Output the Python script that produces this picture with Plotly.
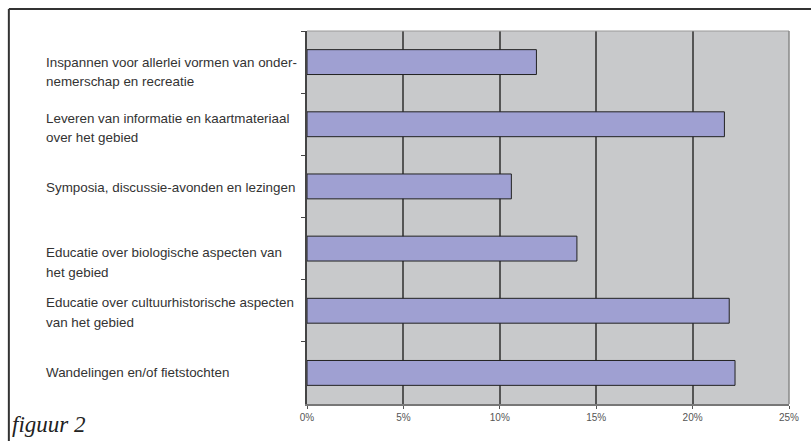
import plotly.graph_objects as go

categories = [
    "Inspannen voor allerlei vormen van onder-\nnemerschap en recreatie",
    "Leveren van informatie en kaartmateriaal\nover het gebied",
    "Symposia, discussie-avonden en lezingen",
    "Educatie over biologische aspecten van\nhet gebied",
    "Educatie over cultuurhistorische aspecten\nvan het gebied",
    "Wandelingen en/of fietstochten",
]
values = [0.119, 0.2165, 0.106, 0.140, 0.219, 0.222]
x_ticks = [0, 0.05, 0.10, 0.15, 0.20, 0.25]
x_tick_labels = ["0%", "5%", "10%", "15%", "20%", "25%"]
figure_label = "figuur 2"

# styling: vertical offset (px, positive = down) of first label line vs. bar centre
label_offsets = [0, -6, 1, 4, -8, 0]
line_step = 19.5

W, H = 811, 441
L, R, T, B = 307, 19, 31, 37
pw, ph = W - L - R, H - T - B

fig = go.Figure()
fig.add_trace(go.Bar(
    y=categories, x=values, orientation="h",
    marker=dict(color="#9FA0D2", line=dict(color="#222222", width=1)),
    hoverinfo="skip",
))

annotations = []
for cat, off in zip(categories, label_offsets):
    for i, line in enumerate(cat.split("\n")):
        annotations.append(dict(
            xref="paper", yref="y", x=(42 - L) / pw, y=cat,
            xanchor="left", yanchor="middle", showarrow=False,
            text=line, yshift=-(off + i * line_step),
            font=dict(family="Liberation Sans, Arial", size=13.4, color="#333333"),
        ))
annotations.append(dict(
    xref="paper", yref="paper", x=(8 - L) / pw, y=-(424 - (T + ph)) / ph,
    xanchor="left", yanchor="middle", showarrow=False, text="<i>" + figure_label + "</i>",
    font=dict(family="Liberation Serif, Times New Roman", size=23, color="#222222"),
))

shapes = [
    dict(type="line", xref="paper", yref="paper",
         x0=(7 - L) / pw, x1=(W + 5 - L) / pw, y0=1 + (T - 9) / ph, y1=1 + (T - 9) / ph,
         line=dict(color="#333333", width=2)),
    dict(type="line", xref="paper", yref="paper",
         x0=(7 - L) / pw, x1=(7 - L) / pw, y0=1 + (T - 9) / ph, y1=-(H + 5 - T - ph) / ph,
         line=dict(color="#333333", width=2)),
    dict(type="line", xref="paper", yref="paper", x0=0, x1=1, y0=1, y1=1,
         line=dict(color="#999999", width=1)),
    dict(type="line", xref="paper", yref="paper", x0=1, x1=1, y0=0, y1=1,
         line=dict(color="#888888", width=1.5)),
]

fig.update_layout(
    width=W, height=H,
    margin=dict(l=L, r=R, t=T, b=B),
    paper_bgcolor="white", plot_bgcolor="#C8C9CB",
    showlegend=False, bargap=0.6,
    annotations=annotations, shapes=shapes,
    xaxis=dict(
        range=[0, 0.25], tickvals=x_ticks, ticktext=x_tick_labels,
        showgrid=True, gridcolor="#555555", gridwidth=1.5,
        showline=True, linecolor="#777777", linewidth=2,
        ticks="outside", ticklen=3, tickcolor="#555555",
        tickfont=dict(family="Liberation Sans, Arial", size=10, color="#555555"),
        zeroline=False, fixedrange=True,
    ),
    yaxis=dict(
        categoryorder="array", categoryarray=categories, autorange="reversed",
        showticklabels=False, ticks="outside", ticklen=4, tickcolor="#444444",
        tickson="boundaries", showgrid=False,
        showline=True, linecolor="#444444", linewidth=1.5, zeroline=False,
        fixedrange=True,
    ),
)

fig.write_html(
    "out.html",
    config={"displayModeBar": False},
    post_script="document.body.style.margin='0';document.body.style.overflow='hidden';",
)
